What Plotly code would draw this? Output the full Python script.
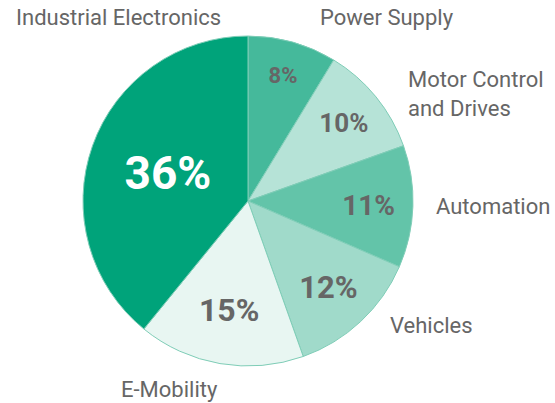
import plotly.graph_objects as go

# Data
categories = ["Power Supply", "Motor Control and Drives", "Automation", "Vehicles", "E-Mobility", "Industrial Electronics"]
values = [8, 10, 11, 12, 15, 36]
pct_labels = ["8%", "10%", "11%", "12%", "15%", "36%"]
outside_labels = ["Power Supply", "Motor Control<br>and Drives", "Automation", "Vehicles", "E-Mobility", "Industrial Electronics"]

# Styles
colors = ["#45B99B", "#B6E3D7", "#63C4A9", "#A0DACA", "#E8F6F2", "#00A37A"]
text_colors = ["#666666"] * 5 + ["#FFFFFF"]
text_sizes = [22, 26, 28, 31, 32, 46]
W, H = 555, 403
label_pos = [(387, 18, "center"), (406, 94, "left"), (434, 206, "left"),
             (388, 325, "left"), (119, 389, "left"), (118, 18, "center")]

fig = go.Figure(go.Pie(
    labels=categories,
    values=values,
    text=pct_labels,
    textinfo="text",
    textposition="inside",
    insidetextorientation="horizontal",
    sort=False,
    direction="clockwise",
    rotation=0,
    marker=dict(colors=colors, line=dict(color="#7FCDB7", width=1)),
    insidetextfont=dict(family="Roboto", color=text_colors, size=text_sizes, weight="bold"),
    hoverinfo="label+text",
    showlegend=False,
    domain=dict(x=[83 / W, 413 / W], y=[1 - 366 / H, 1 - 36 / H]),
))

for lab, (px, py, anc) in zip(outside_labels, label_pos):
    fig.add_annotation(
        text=lab, x=px / W, y=1 - py / H, xref="paper", yref="paper",
        xanchor=anc, yanchor="middle", align="left", showarrow=False,
        font=dict(family="Roboto", size=22, color="#666666"),
    )

fig.update_layout(
    width=W, height=H,
    margin=dict(l=0, r=0, t=0, b=0),
    paper_bgcolor="white", plot_bgcolor="white",
)

fig.write_html("out.html", config={"displayModeBar": False},
               post_script="document.body.style.margin='0';")
